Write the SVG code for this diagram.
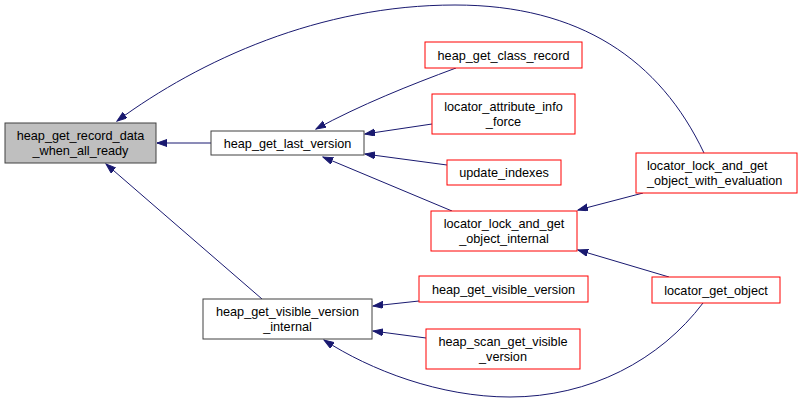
<svg xmlns="http://www.w3.org/2000/svg" width="803" height="403" viewBox="0 0 803 403">
<style>
.n rect{fill:#ffffff;stroke:#ff0000;stroke-width:1}
.n.b rect{stroke:#404040}
.n.g rect{fill:#bfbfbf;stroke:#404040}
text{font-family:"Liberation Sans",Arial,sans-serif;font-size:12.7px;fill:#000000;text-anchor:middle}
text.l{text-anchor:start}
#edges path{fill:none;stroke:#191970;stroke-width:1;marker-end:url(#ah)}
</style>
<defs>
<marker id="ah" markerUnits="userSpaceOnUse" markerWidth="11" markerHeight="8" refX="10" refY="3.5" orient="auto">
<path d="M0,0 L10,3.5 L0,7 z" fill="#191970" stroke="#191970" stroke-width="1"/>
</marker>
</defs>
<rect width="803" height="403" fill="#ffffff"/>
<g id="edges">
<path d="M211,143 L157,143"/>
<path d="M704,153 C660,60 580,5 455,5 C320,5 200,60 117,121"/>
<path d="M262,299 L106,164"/>
<path d="M456,68 C410,85 360,105 316,129"/>
<path d="M432,124 L365,134"/>
<path d="M447,165 L365,154"/>
<path d="M452,211 L323,157"/>
<path d="M643,193 L578,210"/>
<path d="M669,277 L578,250"/>
<path d="M419,301 L373,306"/>
<path d="M426,338 L373,331"/>
<path d="M703,303 C660,360 590,397 510,397 C440,397 370,370 324,340"/>
</g>
<g id="n1" class="n g"><rect x="5" y="123" width="151" height="40"/><text x="80.5" y="139.5">heap_get_record_data</text><text x="80.5" y="154.5">_when_all_ready</text></g>
<g id="n2" class="n b"><rect x="211" y="131" width="153" height="24"/><text x="287.5" y="147.5">heap_get_last_version</text></g>
<g id="n3" class="n"><rect x="425" y="42" width="157" height="26"/><text x="503.5" y="59.5">heap_get_class_record</text></g>
<g id="n4" class="n"><rect x="432" y="94" width="143" height="40"/><text x="503.5" y="110.5">locator_attribute_info</text><text x="503.5" y="125.5">_force</text></g>
<g id="n5" class="n"><rect x="447" y="160" width="114" height="25"/><text x="504" y="177">update_indexes</text></g>
<g id="n6" class="n"><rect x="431" y="211" width="146" height="40"/><text x="504" y="227.5">locator_lock_and_get</text><text x="504" y="242.5">_object_internal</text></g>
<g id="n7" class="n"><rect x="636" y="153" width="161" height="40"/><text class="l" x="647" y="169.5">locator_lock_and_get</text><text class="l" x="647" y="184.5">_object_with_evaluation</text></g>
<g id="n8" class="n"><rect x="652" y="277" width="128" height="26"/><text x="716" y="294.5">locator_get_object</text></g>
<g id="n9" class="n b"><rect x="203" y="299" width="169" height="40"/><text x="287.5" y="315.5">heap_get_visible_version</text><text x="287.5" y="330.5">_internal</text></g>
<g id="n10" class="n"><rect x="419" y="276" width="169" height="26"/><text x="503.5" y="293.5">heap_get_visible_version</text></g>
<g id="n11" class="n"><rect x="426" y="329" width="154" height="40"/><text x="503" y="345.5">heap_scan_get_visible</text><text x="503" y="360.5">_version</text></g>
</svg>
